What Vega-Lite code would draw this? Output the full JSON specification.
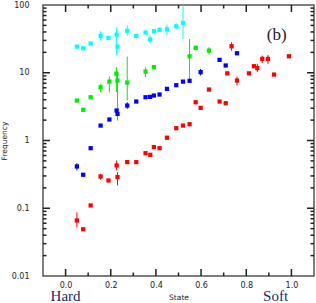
{
  "$schema": "https://vega.github.io/schema/vega-lite/v6.json",
  "width": 271,
  "height": 271,
  "autosize": "none",
  "padding": {"left": 43, "top": 5, "right": 2, "bottom": 27},
  "background": "white",
  "config": {"view": {"stroke": "#555", "strokeWidth": 1.5}, "axis": {"grid": false, "domain": false, "ticks": false, "labelColor": "#222", "titleColor": "#222", "labelFont": "DejaVu Sans", "titleFont": "DejaVu Sans", "labelFontSize": 8, "titleFontSize": 7.5, "titleFontWeight": "normal"}},
  "datasets": {
    "pts": [
      {"s": "c", "x": 0.05, "y": 24.3},
      {"s": "c", "x": 0.078, "y": 23},
      {"s": "c", "x": 0.111, "y": 27},
      {"s": "c", "x": 0.155, "y": 35, "lo": 29.9, "hi": 41},
      {"s": "c", "x": 0.19, "y": 32.7},
      {"s": "c", "x": 0.226, "y": 36.6, "lo": 18, "hi": 47},
      {"s": "c", "x": 0.23, "y": 24.3},
      {"s": "c", "x": 0.273, "y": 41.5, "lo": 35.4, "hi": 49.7},
      {"s": "c", "x": 0.313, "y": 35},
      {"s": "c", "x": 0.354, "y": 39.2},
      {"s": "c", "x": 0.374, "y": 31, "lo": 27.2, "hi": 35.4},
      {"s": "c", "x": 0.392, "y": 41},
      {"s": "c", "x": 0.416, "y": 43},
      {"s": "c", "x": 0.449, "y": 43.8, "lo": 35.7, "hi": 51.4},
      {"s": "c", "x": 0.49, "y": 48.5, "lo": 43, "hi": 53.7},
      {"s": "c", "x": 0.52, "y": 54.5, "lo": 31.5, "hi": 100},
      {"s": "g", "x": 0.05, "y": 3.89},
      {"s": "g", "x": 0.078, "y": 2.84},
      {"s": "g", "x": 0.111, "y": 4.35},
      {"s": "g", "x": 0.155, "y": 6.1, "lo": 5.15, "hi": 6.86},
      {"s": "g", "x": 0.194, "y": 7.4, "lo": 5.15, "hi": 8.79},
      {"s": "g", "x": 0.225, "y": 9.7, "lo": 5.2, "hi": 12.1},
      {"s": "g", "x": 0.23, "y": 7.67, "lo": 1.97, "hi": 9.3},
      {"s": "g", "x": 0.273, "y": 7.17, "lo": 3.9, "hi": 17.3},
      {"s": "g", "x": 0.354, "y": 10.4, "lo": 8.6, "hi": 12.05},
      {"s": "g", "x": 0.391, "y": 12.1},
      {"s": "g", "x": 0.549, "y": 17.5, "lo": 7.5, "hi": 31.5},
      {"s": "g", "x": 0.576, "y": 23.3, "lo": 21.2, "hi": 25.2},
      {"s": "g", "x": 0.635, "y": 21.2, "lo": 18.6, "hi": 23.8},
      {"s": "b", "x": 0.05, "y": 0.414, "lo": 0.361, "hi": 0.463},
      {"s": "b", "x": 0.078, "y": 0.312},
      {"s": "b", "x": 0.111, "y": 0.77},
      {"s": "b", "x": 0.155, "y": 1.66},
      {"s": "b", "x": 0.194, "y": 2.04},
      {"s": "b", "x": 0.226, "y": 2.77},
      {"s": "b", "x": 0.23, "y": 2.47},
      {"s": "b", "x": 0.273, "y": 3.28, "lo": 2.93, "hi": 3.67},
      {"s": "b", "x": 0.313, "y": 3.76},
      {"s": "b", "x": 0.354, "y": 4.35},
      {"s": "b", "x": 0.374, "y": 4.4},
      {"s": "b", "x": 0.391, "y": 4.61},
      {"s": "b", "x": 0.416, "y": 4.77},
      {"s": "b", "x": 0.449, "y": 5.78},
      {"s": "b", "x": 0.49, "y": 6.55},
      {"s": "b", "x": 0.52, "y": 7.4},
      {"s": "b", "x": 0.549, "y": 7.6},
      {"s": "b", "x": 0.598, "y": 10.2, "lo": 9.1, "hi": 11.4},
      {"s": "b", "x": 0.682, "y": 15.5},
      {"s": "b", "x": 0.709, "y": 12.8},
      {"s": "b", "x": 0.759, "y": 19.4},
      {"s": "r", "x": 0.05, "y": 0.066, "lo": 0.052, "hi": 0.087},
      {"s": "r", "x": 0.078, "y": 0.049},
      {"s": "r", "x": 0.111, "y": 0.11},
      {"s": "r", "x": 0.155, "y": 0.294, "lo": 0.263, "hi": 0.323},
      {"s": "r", "x": 0.19, "y": 0.257},
      {"s": "r", "x": 0.226, "y": 0.428, "lo": 0.361, "hi": 0.507},
      {"s": "r", "x": 0.23, "y": 0.288, "lo": 0.217, "hi": 0.34},
      {"s": "r", "x": 0.273, "y": 0.48},
      {"s": "r", "x": 0.313, "y": 0.48},
      {"s": "r", "x": 0.354, "y": 0.65},
      {"s": "r", "x": 0.375, "y": 0.615},
      {"s": "r", "x": 0.391, "y": 0.8},
      {"s": "r", "x": 0.416, "y": 0.77},
      {"s": "r", "x": 0.449, "y": 1.1},
      {"s": "r", "x": 0.49, "y": 1.52},
      {"s": "r", "x": 0.52, "y": 1.66},
      {"s": "r", "x": 0.549, "y": 1.74},
      {"s": "r", "x": 0.576, "y": 3.67},
      {"s": "r", "x": 0.598, "y": 3.03},
      {"s": "r", "x": 0.635, "y": 5.65},
      {"s": "r", "x": 0.682, "y": 3.76},
      {"s": "r", "x": 0.709, "y": 3.55},
      {"s": "r", "x": 0.716, "y": 9.8},
      {"s": "r", "x": 0.735, "y": 24.6, "lo": 21.2, "hi": 28.2},
      {"s": "r", "x": 0.759, "y": 7.67, "lo": 6.48, "hi": 8.79},
      {"s": "r", "x": 0.812, "y": 9.8},
      {"s": "r", "x": 0.834, "y": 12.5},
      {"s": "r", "x": 0.849, "y": 11.7, "lo": 10.2, "hi": 13.5},
      {"s": "r", "x": 0.871, "y": 16, "lo": 14, "hi": 17.9},
      {"s": "r", "x": 0.896, "y": 16, "lo": 13.5, "hi": 18.3},
      {"s": "r", "x": 0.923, "y": 9.4},
      {"s": "r", "x": 0.989, "y": 17.5}
    ],
    "notes": [
      {"x": 0.0, "t": "Hard"},
      {"x": 0.93, "t": "Soft"}
    ],
    "xt": [
      {"v": 0, "k": "major"}, {"v": 0.1, "k": "minor"}, {"v": 0.2, "k": "major"}, {"v": 0.3, "k": "minor"},
      {"v": 0.4, "k": "major"}, {"v": 0.5, "k": "minor"}, {"v": 0.6, "k": "major"}, {"v": 0.7, "k": "minor"},
      {"v": 0.8, "k": "major"}, {"v": 0.9, "k": "minor"}, {"v": 1, "k": "major"}
    ],
    "yt": [
      {"v": 0.02, "k": "minor"}, {"v": 0.03, "k": "minor"}, {"v": 0.04, "k": "minor"}, {"v": 0.05, "k": "minor"}, {"v": 0.06, "k": "minor"}, {"v": 0.07, "k": "minor"}, {"v": 0.08, "k": "minor"}, {"v": 0.09, "k": "minor"},
      {"v": 0.1, "k": "major"},
      {"v": 0.2, "k": "minor"}, {"v": 0.3, "k": "minor"}, {"v": 0.4, "k": "minor"}, {"v": 0.5, "k": "minor"}, {"v": 0.6, "k": "minor"}, {"v": 0.7, "k": "minor"}, {"v": 0.8, "k": "minor"}, {"v": 0.9, "k": "minor"},
      {"v": 1, "k": "major"},
      {"v": 2, "k": "minor"}, {"v": 3, "k": "minor"}, {"v": 4, "k": "minor"}, {"v": 5, "k": "minor"}, {"v": 6, "k": "minor"}, {"v": 7, "k": "minor"}, {"v": 8, "k": "minor"}, {"v": 9, "k": "minor"},
      {"v": 10, "k": "major"},
      {"v": 20, "k": "minor"}, {"v": 30, "k": "minor"}, {"v": 40, "k": "minor"}, {"v": 50, "k": "minor"}, {"v": 60, "k": "minor"}, {"v": 70, "k": "minor"}, {"v": 80, "k": "minor"}, {"v": 90, "k": "minor"}
    ]
  },
  "layer": [
    {
      "data": {"name": "pts"},
      "transform": [{"filter": "isValid(datum.lo)"}],
      "mark": {"type": "rule", "strokeWidth": 1, "clip": true},
      "encoding": {
        "x": {"field": "x", "type": "quantitative", "scale": {"domain": [-0.1, 1.1], "nice": false, "zero": false},
          "axis": {"orient": "bottom", "title": "State", "titlePadding": 4, "values": [0, 0.2, 0.4, 0.6, 0.8, 1], "labelPadding": 5}},
        "y": {"field": "lo", "type": "quantitative", "scale": {"type": "log", "domain": [0.01, 100], "nice": false},
          "axis": {"orient": "left", "title": "Frequency", "titlePadding": 3, "values": [0.01,0.1,1,10,100], "labelExpr": "datum.value >= 1 ? format(datum.value, 'd') : format(datum.value, '')", "labelPadding": 14}},
        "y2": {"field": "hi"},
        "color": {"field": "s", "type": "nominal", "scale": {"domain": ["c", "g", "b", "r"], "range": ["#00ffff", "#00ee00", "#0000ff", "#ff0000"]}, "legend": null}
      }
    },
    {
      "data": {"name": "pts"},
      "mark": {"type": "square", "size": 18, "opacity": 1, "filled": true},
      "encoding": {
        "x": {"field": "x", "type": "quantitative"},
        "y": {"field": "y", "type": "quantitative"},
        "color": {"field": "s", "type": "nominal", "legend": null}
      }
    },
    {
      "data": {"name": "xt"},
      "mark": {"type": "tick", "orient": "vertical", "clip": true, "color": "#222", "thickness": 1.5, "opacity": 1},
      "encoding": {
        "x": {"field": "v", "type": "quantitative"},
        "y": {"datum": 0.01, "type": "quantitative"},
        "size": {"field": "k", "type": "ordinal", "scale": {"domain": ["major", "minor"], "range": [14, 7]}, "legend": null}
      }
    },
    {
      "data": {"name": "xt"},
      "mark": {"type": "tick", "orient": "vertical", "clip": true, "color": "#222", "thickness": 1.5, "opacity": 1},
      "encoding": {
        "x": {"field": "v", "type": "quantitative"},
        "y": {"datum": 100, "type": "quantitative"},
        "size": {"field": "k", "type": "ordinal", "legend": null}
      }
    },
    {
      "data": {"name": "yt"},
      "mark": {"type": "tick", "orient": "horizontal", "clip": true, "color": "#222", "thickness": 1.5, "opacity": 1},
      "encoding": {
        "y": {"field": "v", "type": "quantitative"},
        "x": {"datum": -0.1, "type": "quantitative"},
        "size": {"field": "k", "type": "ordinal", "legend": null}
      }
    },
    {
      "data": {"name": "yt"},
      "mark": {"type": "tick", "orient": "horizontal", "clip": true, "color": "#222", "thickness": 1.5, "opacity": 1},
      "encoding": {
        "y": {"field": "v", "type": "quantitative"},
        "x": {"datum": 1.1, "type": "quantitative"},
        "size": {"field": "k", "type": "ordinal", "legend": null}
      }
    },
    {
      "data": {"values": [{"t": "(b)", "x": 0.935, "y": 36.6}]},
      "mark": {"type": "text", "font": "Liberation Serif", "fontSize": 17, "color": "#222", "baseline": "middle", "align": "center"},
      "encoding": {
        "x": {"field": "x", "type": "quantitative"},
        "y": {"field": "y", "type": "quantitative"},
        "text": {"field": "t"}
      }
    },
    {
      "data": {"name": "notes"},
      "mark": {"type": "text", "font": "Liberation Serif", "fontSize": 15, "color": "#1c2a66", "baseline": "middle", "align": "center", "dy": 20},
      "encoding": {
        "x": {"field": "x", "type": "quantitative"},
        "y": {"datum": 0.01, "type": "quantitative"},
        "text": {"field": "t"}
      }
    }
  ]
}
